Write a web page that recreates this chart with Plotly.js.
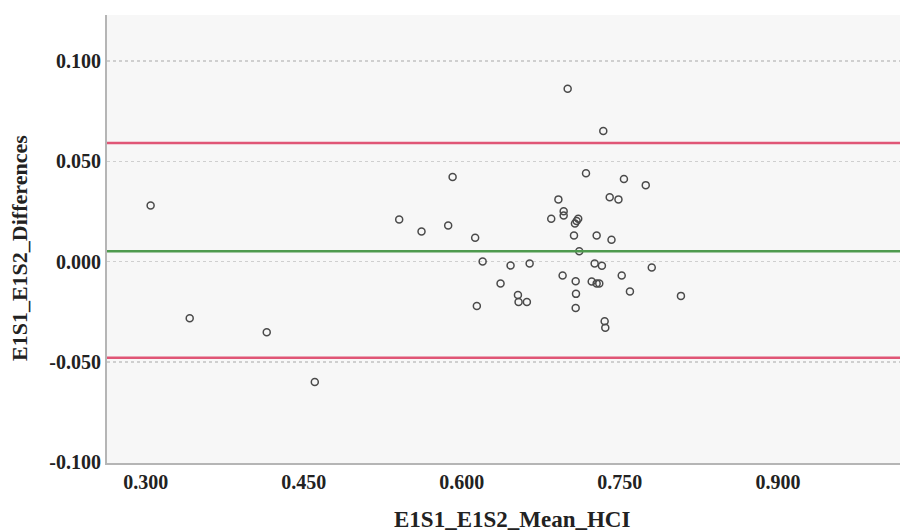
<!DOCTYPE html>
<html>
<head>
<meta charset="utf-8">
<script src="https://cdn.plot.ly/plotly-3.0.1.min.js"></script>
<style>html,body{margin:0;padding:0;background:#fff;}#chart{width:900px;height:532px;}</style>
</head>
<body>
<div id="chart"></div>
<script>
// Bland-Altman data: mean of the two measurements (x) and their difference (y)
const meanHCI = [
  0.3047, 0.3418, 0.4149, 0.4605, 0.5406, 0.5618, 0.5871, 0.5913, 0.6127, 0.6198,
  0.6463, 0.6644, 0.6368, 0.6143, 0.6533, 0.6539, 0.6618, 0.6849, 0.6917, 0.6967,
  0.6967, 0.7105, 0.7090, 0.7074, 0.7065, 0.7280, 0.7421, 0.7115, 0.7261, 0.7330,
  0.7803, 0.6957, 0.7081, 0.7233, 0.7280, 0.7305, 0.7518, 0.7084, 0.7596, 0.8080,
  0.7081, 0.7356, 0.7362, 0.7005, 0.7343, 0.7179, 0.7539, 0.7746, 0.7404, 0.7487
];
const differences = [
  0.0280, -0.0282, -0.0352, -0.0600, 0.0210, 0.0150, 0.0180, 0.0422, 0.0119, 0.0000,
  -0.0020, -0.0010, -0.0109, -0.0221, -0.0167, -0.0201, -0.0201, 0.0213, 0.0310, 0.0251,
  0.0230, 0.0214, 0.0202, 0.0190, 0.0130, 0.0130, 0.0109, 0.0051, -0.0010, -0.0021,
  -0.0030, -0.0070, -0.0098, -0.0099, -0.0109, -0.0109, -0.0070, -0.0161, -0.0149, -0.0171,
  -0.0231, -0.0298, -0.0330, 0.0861, 0.0651, 0.0440, 0.0411, 0.0381, 0.0321, 0.0310
];
const meanDifference = [0.0051];
const limitsOfAgreement = [0.0591, -0.0479];
const xTicks = [0.300, 0.450, 0.600, 0.750, 0.900];
const xTickLabels = ['0.300', '0.450', '0.600', '0.750', '0.900'];
const yTicks = [-0.100, -0.050, 0.000, 0.050, 0.100];
const yTickLabels = ['-0.100', '-0.050', '0.000', '0.050', '0.100'];
const xTitle = 'E1S1_E1S2_Mean_HCI';
const yTitle = 'E1S1_E1S2_Differences';

const fontFam = '"Liberation Serif", "Times New Roman", serif';

const trace = {
  x: meanHCI,
  y: differences,
  type: 'scatter',
  mode: 'markers',
  marker: {symbol: 'circle-open', size: 7, color: '#4a4a4a', line: {width: 1.5, color: '#4a4a4a'}},
  hoverinfo: 'x+y',
  showlegend: false
};

const shapes = [];
limitsOfAgreement.forEach(v => shapes.push({
  type: 'line', xref: 'paper', x0: 0, x1: 1, yref: 'y', y0: v, y1: v,
  line: {color: '#e05676', width: 2.5}
}));
meanDifference.forEach(v => shapes.push({
  type: 'line', xref: 'paper', x0: 0, x1: 1, yref: 'y', y0: v, y1: v,
  line: {color: '#4e9a4e', width: 2.5}
}));

const layout = {
  width: 900, height: 532,
  margin: {l: 107, r: 0, t: 15, b: 69},
  paper_bgcolor: '#ffffff',
  plot_bgcolor: '#f7f7f7',
  font: {family: fontFam, color: '#222'},
  showlegend: false,
  xaxis: {
    range: [0.2633, 1.0159],
    tickvals: xTicks,
    ticktext: xTickLabels,
    showgrid: false,
    zeroline: false,
    showline: true, linecolor: '#b5b5b5', linewidth: 2,
    ticks: '',
    tickfont: {family: fontFam, size: 20, color: '#222', weight: 'bold'},
    automargin: false
  },
  yaxis: {
    range: [-0.1004, 0.1229],
    tickvals: yTicks,
    ticktext: yTickLabels,
    showgrid: true, gridcolor: '#cfcfcf', gridwidth: 1.5, griddash: 'dot',
    zeroline: false,
    showline: true, linecolor: '#b5b5b5', linewidth: 2,
    ticks: '',
    tickfont: {family: fontFam, size: 20, color: '#222', weight: 'bold'},
    automargin: false
  },
  annotations: [
    {text: '<b>' + xTitle + '</b>', xref: 'paper', yref: 'paper', x: 0.511, y: -0.125,
     xanchor: 'center', yanchor: 'middle', showarrow: false,
     font: {family: fontFam, size: 23, color: '#222'}},
    {text: '<b>' + yTitle + '</b>', xref: 'paper', yref: 'paper', x: -0.1097, y: 0.48,
     xanchor: 'center', yanchor: 'middle', showarrow: false, textangle: -90,
     font: {family: fontFam, size: 22, color: '#222'}}
  ],
  shapes: shapes
};

Plotly.newPlot('chart', [trace], layout, {displayModeBar: false, staticPlot: true});
</script>
</body>
</html>
